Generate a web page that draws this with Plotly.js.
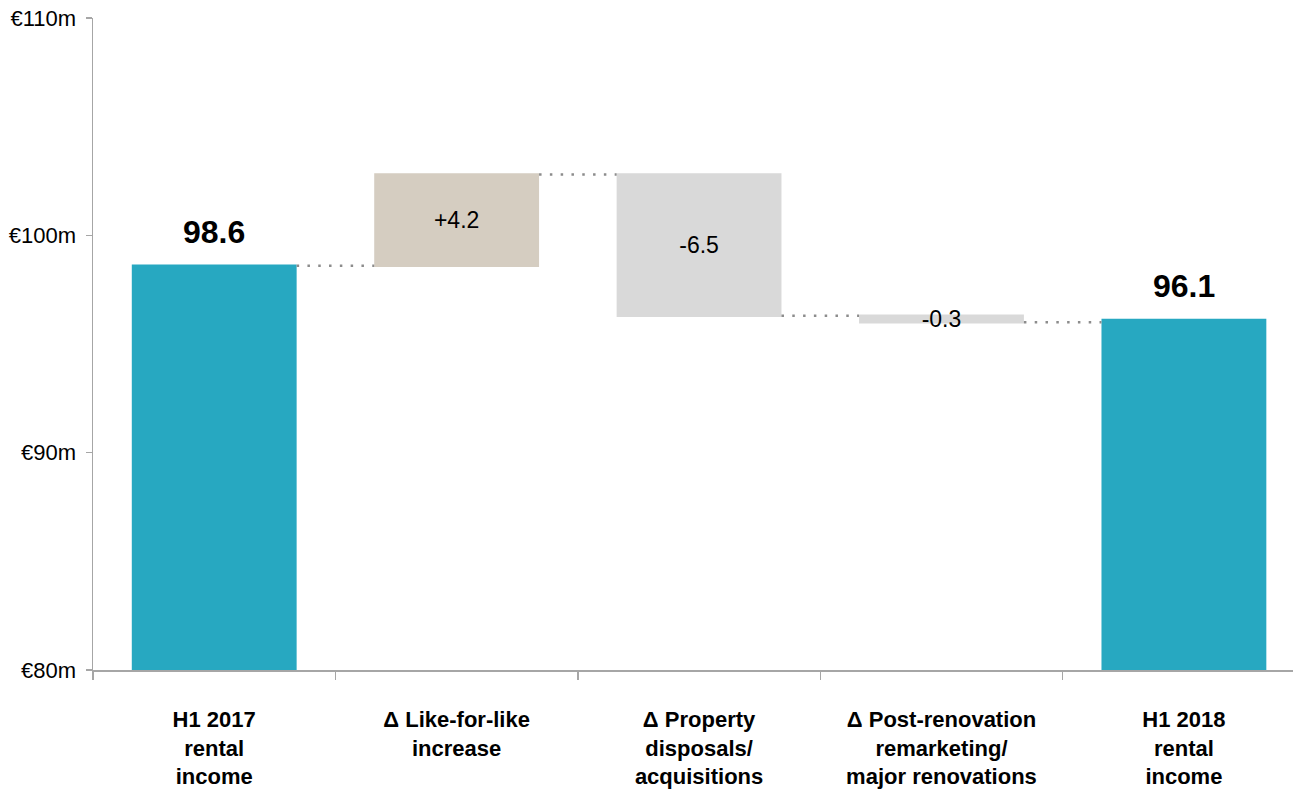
<!DOCTYPE html>
<html>
<head>
<meta charset="utf-8">
<script src="https://cdn.plot.ly/plotly-3.0.1.min.js"></script>
<style>html,body{margin:0;padding:0;background:#fff;}#chart{width:1293px;height:795px;}</style>
</head>
<body>
<div id="chart"></div>
<script>
const categories = [
  "H1 2017<br>rental<br>income",
  "Δ Like-for-like<br>increase",
  "Δ Property<br>disposals/<br>acquisitions",
  "Δ Post-renovation<br>remarketing/<br>major renovations",
  "H1 2018<br>rental<br>income"
];
const measures = ["absolute", "relative", "relative", "relative", "absolute"];
const values = [98.6, 4.2, -6.5, -0.3, 96.1];
const labels = ["98.6", "+4.2", "-6.5", "-0.3", "96.1"];
const yTicks = [80, 90, 100, 110];
const yTickText = yTicks.map(v => "€" + v + "m");

const FONT = "Liberation Sans, Arial, sans-serif";

const trace = {
  type: "waterfall",
  x: categories,
  y: values,
  measure: measures,
  text: labels.map((t, i) => measures[i] === "relative" ? t : ""),
  textposition: "inside",
  insidetextanchor: "middle",
  constraintext: "none",
  cliponaxis: false,
  insidetextfont: {family: FONT, size: 23, color: "#000"},
  increasing: {marker: {color: "#D5CDC1"}},
  decreasing: {marker: {color: "#D9D9D9"}},
  totals: {marker: {color: "#27A8C1"}},
  connector: {mode: "between", line: {color: "#8C8C8C", width: 2.5, dash: "2.5px,8.3px"}},
  hoverinfo: "none"
};

const annotations = categories
  .map((c, i) => ({i, c}))
  .filter(o => measures[o.i] === "absolute")
  .map(o => ({
    x: o.c, y: values[o.i], xref: "x", yref: "y",
    text: "<b>" + labels[o.i] + "</b>",
    showarrow: false, yanchor: "bottom", yshift: 14,
    font: {family: FONT, size: 32, color: "#000"}
  }));

const layout = {
  width: 1293, height: 795,
  margin: {l: 93, r: 0, t: 18, b: 125},
  paper_bgcolor: "#fff", plot_bgcolor: "#fff",
  showlegend: false,
  waterfallgap: 0.32,
  font: {family: FONT, color: "#000"},
  annotations: annotations,
  xaxis: {
    type: "category",
    range: [-0.5, 4.45],
    showline: true, linecolor: "#A6A6A6", linewidth: 1.5,
    ticks: "outside", tickson: "boundaries", ticklen: 8, tickcolor: "#A6A6A6", tickwidth: 1.5,
    tickfont: {family: FONT, size: 22, color: "#000", weight: "bold"},
    ticklabelstandoff: 29,
    showgrid: false, zeroline: false, fixedrange: true
  },
  yaxis: {
    range: [80, 110],
    tickmode: "array",
    tickvals: yTicks,
    ticktext: yTickText,
    showline: true, linecolor: "#A6A6A6", linewidth: 1.5,
    ticks: "outside", ticklen: 6, tickcolor: "#A6A6A6", tickwidth: 1.5,
    tickfont: {family: FONT, size: 22, color: "#000"},
    ticklabelstandoff: 5,
    showgrid: false, zeroline: false, fixedrange: true
  }
};

Plotly.newPlot("chart", [trace], layout, {displayModeBar: false, staticPlot: true});
</script>
</body>
</html>
